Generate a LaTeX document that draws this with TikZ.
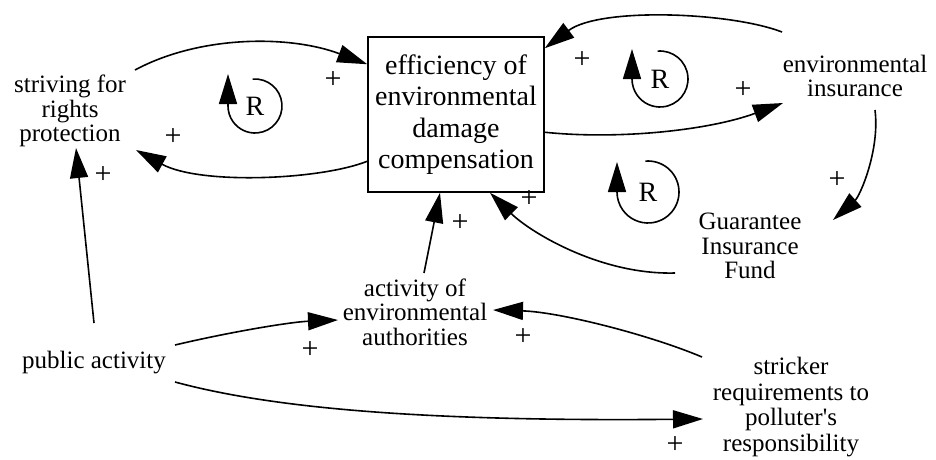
\documentclass[tikz,border=0pt]{standalone}
\usepackage{fontspec}
\setmainfont{Liberation Serif}
\usetikzlibrary{arrows.meta,calc}
\begin{document}
\begin{tikzpicture}[x=1pt,y=-1pt,
  lbl/.style={align=center,inner sep=0pt,font=\fontsize{25}{24.5}\selectfont},
  boxn/.style={draw,line width=1.5pt,minimum width=176pt,minimum height=155pt,align=center,inner sep=0pt,font=\fontsize{28}{31.5}\selectfont},
  plus/.style={inner sep=0pt,font=\fontsize{30}{30}\selectfont},
  conn/.style={line width=1.6pt,-{Triangle[length=30pt,width=18pt]}},
  loopr/.style={line width=1.6pt,-{Triangle[length=30pt,width=18pt]}},
  rlab/.style={inner sep=0pt,font=\fontsize{28}{28}\selectfont}]
\useasboundingbox (0,0) rectangle (936,459);

% nodes
\node[boxn] (box) at (456,114.5) {efficiency of\\environmental\\damage\\compensation};
\node[lbl] (striv) at (70,111) {striving for\\rights\\protection};
\node[lbl] (envins) at (855,76) {environmental\\insurance};
\node[lbl] (gif) at (750,246) {Guarantee\\Insurance\\Fund};
\node[lbl] (act) at (415,312) {activity of\\environmental\\authorities};
\node[lbl] (pub) at (94,363) {public activity};
\node[lbl,font=\fontsize{25}{25.7}\selectfont] (strick) at (791,407) {stricker\\requirements to\\polluter\textquotesingle s\\responsibility};

% connectors
\draw[conn] ([shift={(65,-41)}]striv.center) .. controls (200,35) and (290,35) .. ([shift={(0,28)}]box.north west);
\draw[conn] ([shift={(0,125)}]box.north west) .. controls (320,180) and (200,185) .. ([shift={(66,39)}]striv.center);
\draw[conn] ([shift={(0,96)}]box.north east) .. controls (620,140) and (710,130) .. ([shift={(-72,27)}]envins.center);
\draw[conn] ([shift={(-73,-44)}]envins.center) .. controls (730,12) and (600,7) .. ([shift={(0,12)}]box.north east);
\draw[conn] ([shift={(20,34)}]envins.center) .. controls (880,150) and (860,196) .. ([shift={(83,-26)}]gif.center);
\draw[conn] ([shift={(-75,27)}]gif.center) .. controls (600,275) and (530,232) .. ([shift={(34,0)}]box.south);
\draw[conn] ([shift={(9,-39)}]act.center) -- ([shift={(-16,0)}]box.south);
\draw[conn] ([shift={(0,-40)}]pub.center) -- ([shift={(6,37)}]striv.center);
\draw[conn] ([shift={(81,-18)}]pub.center) .. controls (230,332) and (290,322) .. ([shift={(-77,8)}]act.center);
\draw[conn] ([shift={(-89,-50)}]strick.center) .. controls (650,335) and (560,312) .. ([shift={(78,-2)}]act.center);
\draw[conn] ([shift={(81,19)}]pub.center) .. controls (260,405) and (400,422) .. ([shift={(-88,12)}]strick.center);

% polarity signs
\node[plus] (p1) at (333,80) {+};
\node[plus] (p2) at (173,137) {+};
\node[plus] (p3) at (103,175) {+};
\node[plus] (p4) at (460,223) {+};
\node[plus] (p5) at (529,199) {+};
\node[plus] (p6) at (582,60) {+};
\node[plus] (p7) at (743,90) {+};
\node[plus] (p8) at (837,180) {+};
\node[plus] (p9) at (310,350) {+};
\node[plus] (p10) at (523,337) {+};
\node[plus] (p11) at (675,445) {+};

% loop markers
\node[rlab] (r1) at (255,106) {R};
\draw[loopr] ([shift={(-95:27)}]r1.center) arc[start angle=-95,end angle=180,radius=27] -- ++(0,-32);
\node[rlab] (r2) at (660,79) {R};
\draw[loopr] ([shift={(-95:28)}]r2.center) arc[start angle=-95,end angle=180,radius=28] -- ++(0,-30);
\node[rlab] (r3) at (648,192) {R};
\draw[loopr] ([shift={(-95:31)}]r3.center) arc[start angle=-95,end angle=180,radius=31] -- ++(0,-30);
\end{tikzpicture}
\end{document}
